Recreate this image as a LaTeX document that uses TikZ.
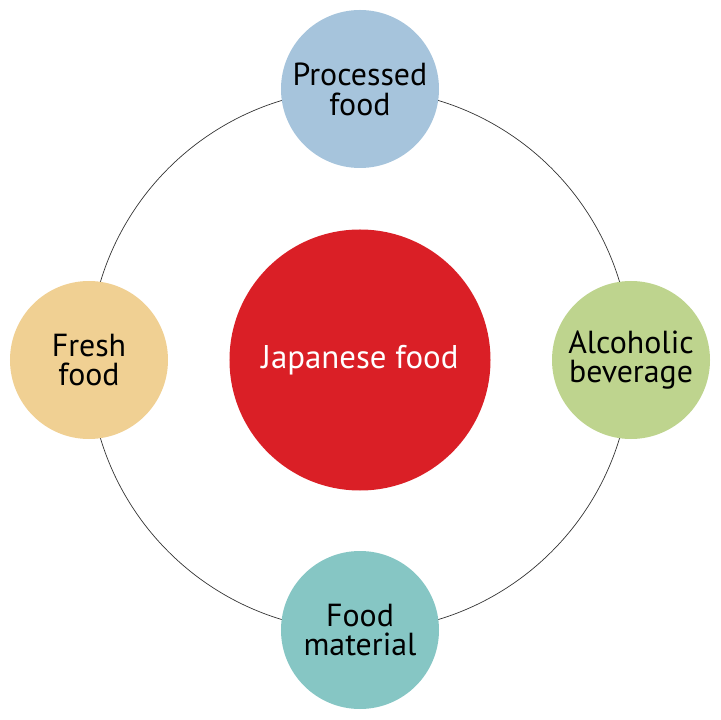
\documentclass[tikz,border=0pt]{standalone}
\usepackage{fontspec}
\setmainfont{PT Sans}
\definecolor{jpred}{HTML}{DA1F26}
\definecolor{procblue}{HTML}{A6C4DC}
\definecolor{freshtan}{HTML}{F0D093}
\definecolor{alcgreen}{HTML}{BED48E}
\definecolor{matteal}{HTML}{86C6C4}
\tikzset{
  item/.style={circle, minimum size=158bp, inner sep=0pt, align=center,
    font=\fontsize{32}{30}\selectfont},
}
\begin{document}
\begin{tikzpicture}[x=1bp,y=1bp]
\useasboundingbox (-360,-360) rectangle (360,360);
% Ring:
\node (jp) [circle, fill=jpred, minimum size=261bp, inner sep=0pt, text=white,
  font=\fontsize{33}{30}\selectfont] at (0,0) {Japanese food};
\draw[black!80, line width=0.7bp] (jp) circle (271bp);
\node (proc) [item, fill=procblue] at (0,271) {Processed\\food};
\node (fresh) [item, fill=freshtan] at (-271,0) {Fresh\\food};
\node (alc) [item, fill=alcgreen] at (271,0) {Alcoholic\\beverage};
\node (mat) [item, fill=matteal] at (0,-270) {Food\\material};
\end{tikzpicture}
\end{document}
